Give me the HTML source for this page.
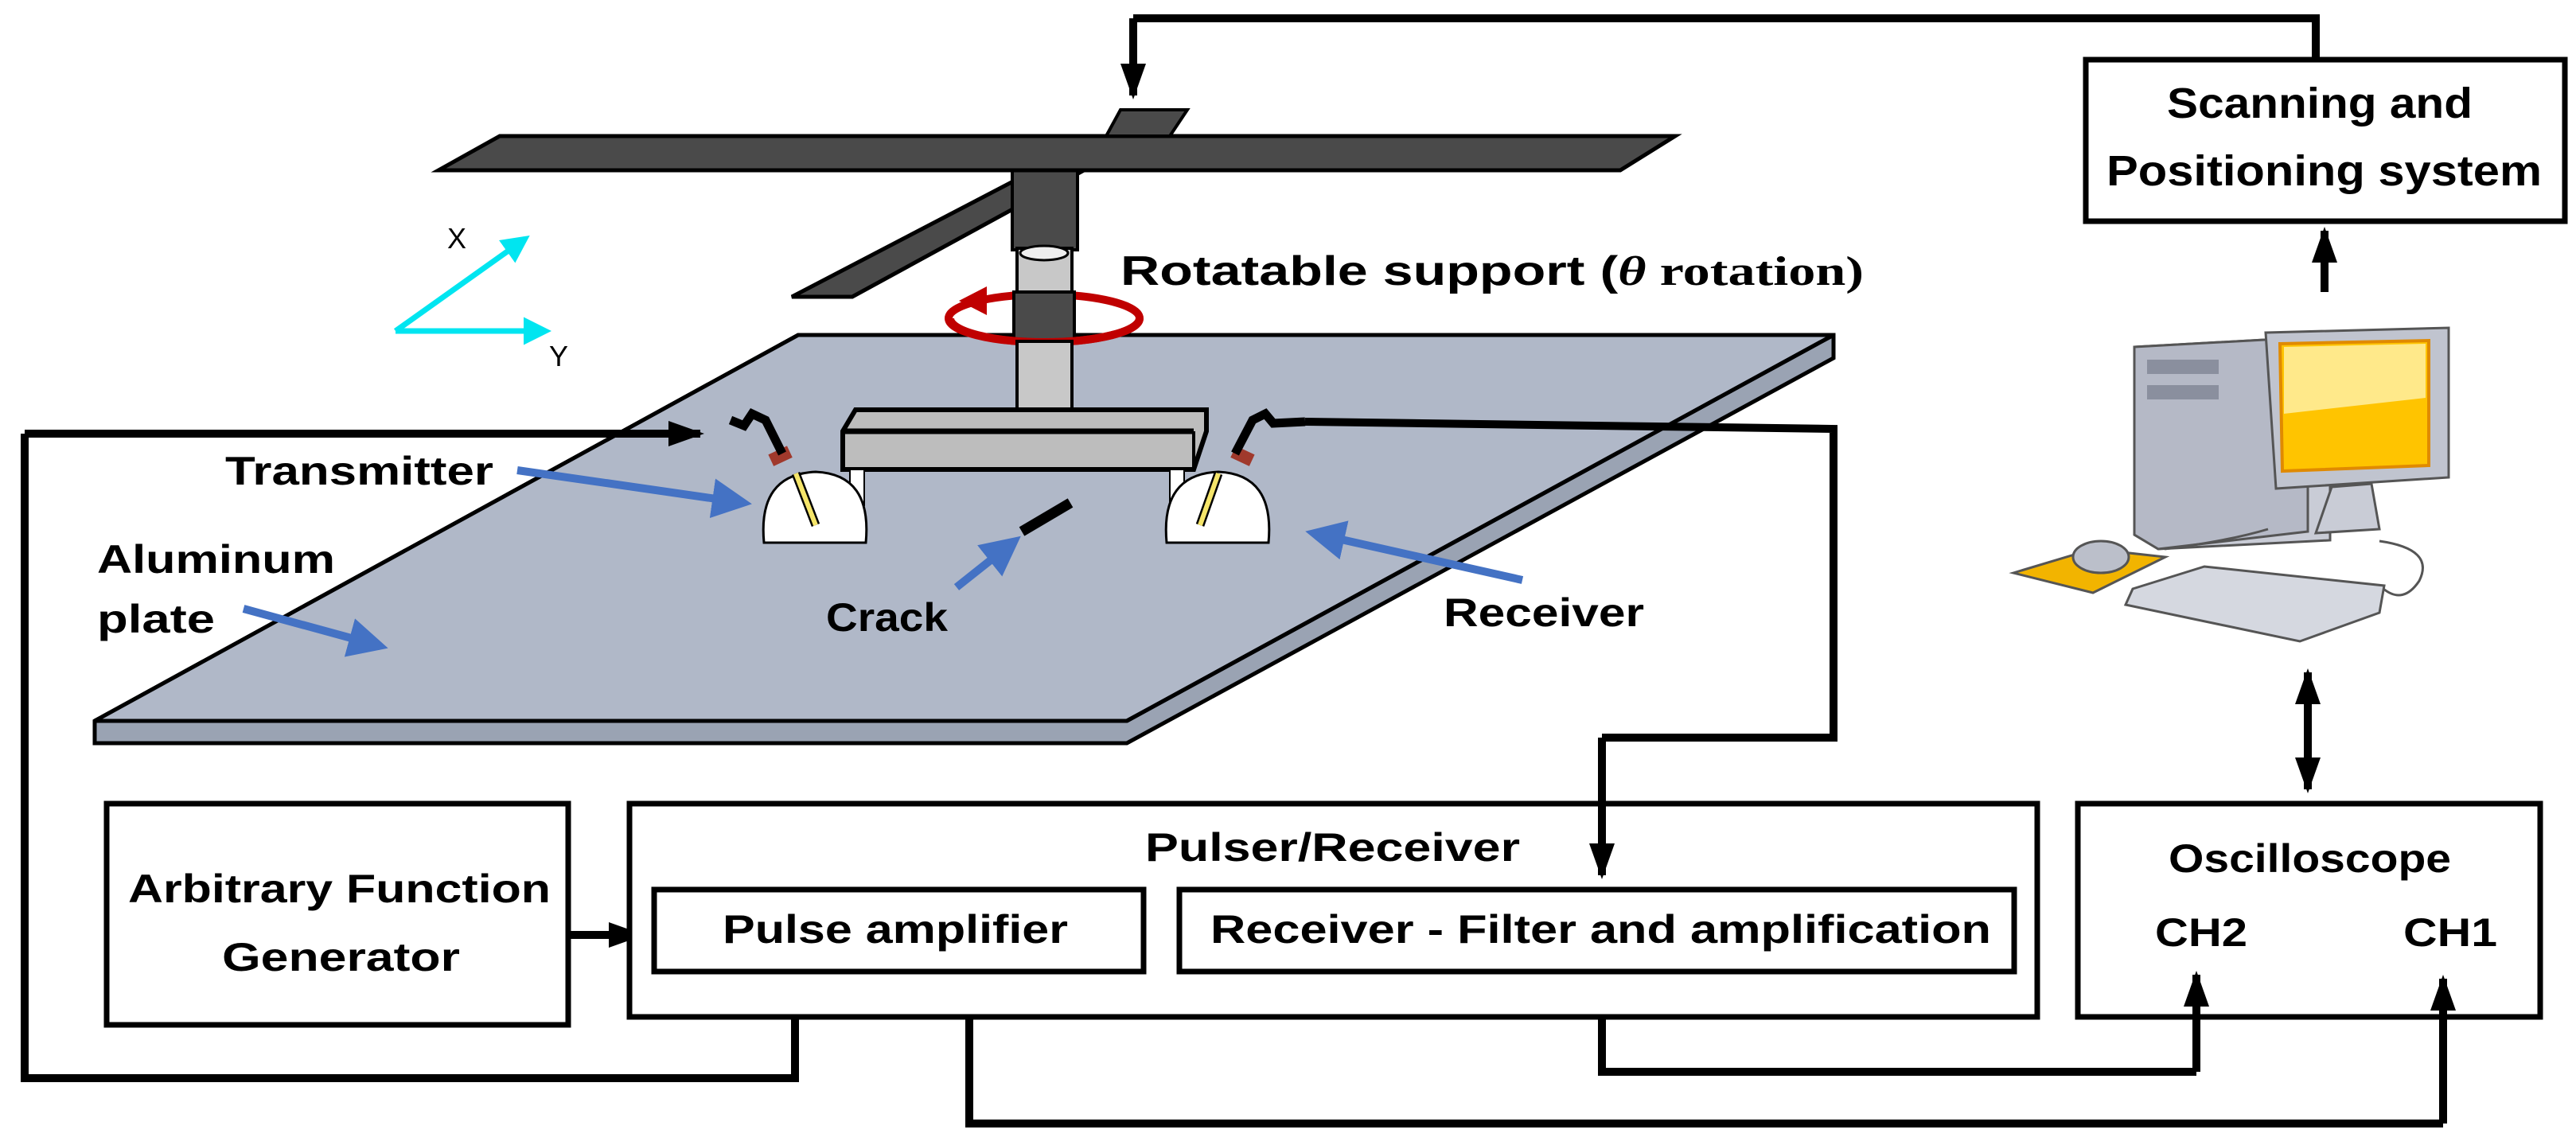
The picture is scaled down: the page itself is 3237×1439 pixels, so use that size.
<!DOCTYPE html>
<html><head><meta charset="utf-8"><style>
html,body{margin:0;padding:0;background:#fff}
svg{display:block}
text{font-family:"Liberation Sans",sans-serif;font-weight:bold;fill:#000}
</style></head><body>
<svg width="3237" height="1439" viewBox="0 0 3237 1439" xmlns="http://www.w3.org/2000/svg">
<defs>
<marker id="ah" markerWidth="4.5" markerHeight="3.2" refX="4" refY="1.6" orient="auto" markerUnits="strokeWidth">
<path d="M0,0 L4.5,1.6 L0,3.2 Z" fill="#000"/></marker>
<marker id="bh" markerWidth="5" markerHeight="5" refX="4" refY="2.5" orient="auto" markerUnits="strokeWidth">
<path d="M0,0 L5,2.5 L0,5 Z" fill="#4472c4"/></marker>
<marker id="ch" markerWidth="5" markerHeight="5" refX="4" refY="2.5" orient="auto" markerUnits="strokeWidth">
<path d="M0,0 L5,2.5 L0,5 Z" fill="#00e5f0"/></marker>
</defs>

<!-- plate -->
<polygon points="1003,421 2304,421 2304,450 1416,934 119,934 119,906" fill="#9aa3b3" stroke="#000" stroke-width="5"/>
<polygon points="1003,421 2304,421 1416,906 119,906" fill="#b0b8c8" stroke="#000" stroke-width="5"/>
<line x1="119" y1="906" x2="1416" y2="906" stroke="#000" stroke-width="5"/>
<line x1="1416" y1="906" x2="2304" y2="421" stroke="#000" stroke-width="5"/>

<!-- crossbars -->
<polygon points="1300,214 1362,214 1071,373 995,373" fill="#4a4a4a" stroke="#000" stroke-width="5"/>
<rect x="1272" y="214" width="82" height="100" fill="#4a4a4a" stroke="#000" stroke-width="4"/>
<polygon points="628,171 2105,171 2036,214 551,214" fill="#4a4a4a" stroke="#000" stroke-width="5"/>
<polygon points="1408,138 1492,138 1470,171 1390,171" fill="#4a4a4a" stroke="#000" stroke-width="4"/>
<!-- column -->
<rect x="1278" y="312" width="69" height="55" fill="#c8c8c8" stroke="#000" stroke-width="4"/>
<ellipse cx="1312" cy="318" rx="30" ry="9" fill="#eee" stroke="#000" stroke-width="3"/>
<ellipse cx="1312" cy="400" rx="120" ry="30" fill="none" stroke="#c00000" stroke-width="10"/>
<rect x="1274" y="367" width="76" height="62" fill="#4a4a4a" stroke="#000" stroke-width="4"/>
<path d="M1194,400 A120,30 0 0 0 1312,430 A120,30 0 0 0 1432,400" fill="none" stroke="#c00000" stroke-width="10"/>
<polygon points="1205,378 1240,360 1240,396" fill="#c00000"/>
<rect x="1278" y="429" width="69" height="88" fill="#c8c8c8" stroke="#000" stroke-width="4"/>
<!-- beam -->
<polygon points="1075,515 1516,515 1516,542 1500,590 1059,590 1059,542" fill="#bdbdbd" stroke="#000" stroke-width="6"/>
<line x1="1059" y1="542" x2="1500" y2="542" stroke="#000" stroke-width="7"/>
<line x1="1500" y1="542" x2="1500" y2="590" stroke="#000" stroke-width="4"/>
<!-- domes -->
<rect x="1068" y="590" width="18" height="45" fill="#fff" stroke="#000" stroke-width="2"/>
<rect x="1470" y="590" width="18" height="45" fill="#fff" stroke="#000" stroke-width="2"/>
<path d="M960,682 Q952,596 1025,593 Q1096,596 1088,682 Z" fill="#fff" stroke="#000" stroke-width="3"/>
<path d="M1466,682 Q1458,596 1531,593 Q1602,596 1594,682 Z" fill="#fff" stroke="#000" stroke-width="3"/>
<!-- probes -->
<line x1="1000" y1="595" x2="1025" y2="660" stroke="#000" stroke-width="11"/>
<line x1="1000" y1="595" x2="1025" y2="660" stroke="#f5e56a" stroke-width="6"/>
<rect x="968" y="565" width="26" height="16" fill="#a0392c" transform="rotate(-25 981 574)"/>
<path d="M983,570 L962,528 L945,520 L935,535 L918,528" fill="none" stroke="#000" stroke-width="11"/>
<line x1="1531" y1="595" x2="1508" y2="660" stroke="#000" stroke-width="11"/>
<line x1="1531" y1="595" x2="1508" y2="660" stroke="#f5e56a" stroke-width="6"/>
<rect x="1548" y="565" width="26" height="16" fill="#a0392c" transform="rotate(25 1561 574)"/>
<path d="M1552,570 L1574,528 L1590,520 L1600,532 L1640,530" fill="none" stroke="#000" stroke-width="11"/>
<!-- crack -->
<line x1="1284" y1="668" x2="1345" y2="632" stroke="#000" stroke-width="13"/>

<!-- blue arrows -->
<line x1="650" y1="591" x2="935" y2="632" stroke="#4472c4" stroke-width="10" marker-end="url(#bh)"/>
<line x1="306" y1="765" x2="478" y2="812" stroke="#4472c4" stroke-width="10" marker-end="url(#bh)"/>
<line x1="1202" y1="738" x2="1275" y2="680" stroke="#4472c4" stroke-width="10" marker-end="url(#bh)"/>
<line x1="1913" y1="729" x2="1650" y2="670" stroke="#4472c4" stroke-width="10" marker-end="url(#bh)"/>

<!-- axes -->
<line x1="497" y1="416" x2="660" y2="300" stroke="#00e5f0" stroke-width="7" marker-end="url(#ch)"/>
<line x1="497" y1="416" x2="686" y2="416" stroke="#00e5f0" stroke-width="7" marker-end="url(#ch)"/>
<text x="562" y="312" font-size="36" style="font-weight:normal">X</text>
<text x="690" y="460" font-size="36" style="font-weight:normal">Y</text>

<!-- labels -->
<text x="283" y="609" font-size="50" textLength="337" lengthAdjust="spacingAndGlyphs">Transmitter</text>
<text x="122" y="720" font-size="50" textLength="299" lengthAdjust="spacingAndGlyphs">Aluminum</text>
<text x="122" y="795" font-size="50" textLength="148" lengthAdjust="spacingAndGlyphs">plate</text>
<text x="1038" y="793" font-size="50" textLength="153" lengthAdjust="spacingAndGlyphs">Crack</text>
<text x="1814" y="787" font-size="50" textLength="252" lengthAdjust="spacingAndGlyphs">Receiver</text>
<text x="1408" y="358" font-size="52" textLength="934" lengthAdjust="spacingAndGlyphs">Rotatable support (<tspan font-family="Liberation Serif" font-style="italic">θ</tspan><tspan font-family="Liberation Serif"> rotation)</tspan></text>

<!-- connectors -->
<g fill="none" stroke="#000" stroke-width="10">
<polyline points="1424,23 2910,23 2910,75"/>
<line x1="1424" y1="23" x2="1424" y2="120" marker-end="url(#ah)"/>
<line x1="2921" y1="367" x2="2921" y2="290" marker-end="url(#ah)"/>
<polyline points="999,1221 999,1355 31,1355 31,545"/>
<line x1="31" y1="545" x2="880" y2="545" marker-end="url(#ah)"/>
<polyline points="1640,530 2304,539 2304,927 2013,927"/>
<line x1="714" y1="1175" x2="805" y2="1175" marker-end="url(#ah)"/>
<polyline points="1218,1221 1218,1412 3070,1412"/>
<polyline points="2013,1221 2013,1347 2760,1347"/>
<line x1="2900" y1="900" x2="2900" y2="992" marker-end="url(#ah)"/>
<line x1="2900" y1="920" x2="2900" y2="845" marker-end="url(#ah)"/>
</g>

<!-- boxes -->
<g fill="#fff" stroke="#000" stroke-width="7">
<rect x="2621" y="75" width="602" height="203"/>
<rect x="134" y="1010" width="580" height="278"/>
<rect x="791" y="1010" width="1769" height="268"/>
<rect x="2611" y="1010" width="581" height="268"/>
<rect x="822" y="1118" width="615" height="103"/>
<rect x="1482" y="1118" width="1049" height="103"/>
</g>
<g fill="none" stroke="#000" stroke-width="10">
<line x1="2013" y1="927" x2="2013" y2="1100" marker-end="url(#ah)"/>
<line x1="3070" y1="1412" x2="3070" y2="1230" marker-end="url(#ah)"/>
<line x1="2760" y1="1347" x2="2760" y2="1225" marker-end="url(#ah)"/>
</g>

<text x="2723" y="148" font-size="54" textLength="384" lengthAdjust="spacingAndGlyphs">Scanning and</text>
<text x="2647" y="233" font-size="54" textLength="547" lengthAdjust="spacingAndGlyphs">Positioning system</text>
<text x="1439" y="1082" font-size="50" textLength="471" lengthAdjust="spacingAndGlyphs">Pulser/Receiver</text>
<text x="161" y="1134" font-size="50" textLength="531" lengthAdjust="spacingAndGlyphs">Arbitrary Function</text>
<text x="279" y="1220" font-size="50" textLength="299" lengthAdjust="spacingAndGlyphs">Generator</text>
<text x="908" y="1185" font-size="50" textLength="434" lengthAdjust="spacingAndGlyphs">Pulse amplifier</text>
<text x="1521" y="1185" font-size="50" textLength="981" lengthAdjust="spacingAndGlyphs">Receiver - Filter and amplification</text>
<text x="2725" y="1096" font-size="50" textLength="355" lengthAdjust="spacingAndGlyphs">Oscilloscope</text>
<text x="2708" y="1189" font-size="50" textLength="116" lengthAdjust="spacingAndGlyphs">CH2</text>
<text x="3020" y="1189" font-size="50" textLength="118" lengthAdjust="spacingAndGlyphs">CH1</text>

<!-- computer -->
<polygon points="2682,436 2900,424 2928,436 2928,679 2712,690 2682,672" fill="#c9ccd6" stroke="#555" stroke-width="3"/>
<polygon points="2682,436 2900,424 2900,668 2712,690 2682,672" fill="#b5b9c6" stroke="#555" stroke-width="3"/>
<rect x="2698" y="452" width="90" height="18" fill="#8a8f9e"/>
<rect x="2698" y="484" width="90" height="18" fill="#8a8f9e"/>
<polygon points="2847,418 3077,412 3077,600 2860,614" fill="#c0c4cf" stroke="#555" stroke-width="3"/>
<polygon points="2865,432 3052,428 3052,585 2868,592" fill="#ffc400" stroke="#e08a00" stroke-width="4"/>
<polygon points="2870,436 3048,432 3048,500 2870,520" fill="#ffe98a"/>
<polygon points="2930,612 2980,608 2990,665 2910,670" fill="#c9ccd6" stroke="#555" stroke-width="3"/>
<polygon points="2530,720 2630,690 2721,700 2630,745" fill="#f2b400" stroke="#555" stroke-width="3"/>
<ellipse cx="2640" cy="700" rx="35" ry="20" fill="#bbbfca" stroke="#555" stroke-width="3"/>
<polygon points="2680,740 2770,712 2996,736 2990,770 2890,806 2671,760" fill="#d5d8e0" stroke="#555" stroke-width="3"/>
<path d="M2720,690 Q2800,680 2850,665 M2990,680 Q3060,690 3040,730 Q3020,760 2995,740" fill="none" stroke="#555" stroke-width="3"/>
</svg>
</body></html>
